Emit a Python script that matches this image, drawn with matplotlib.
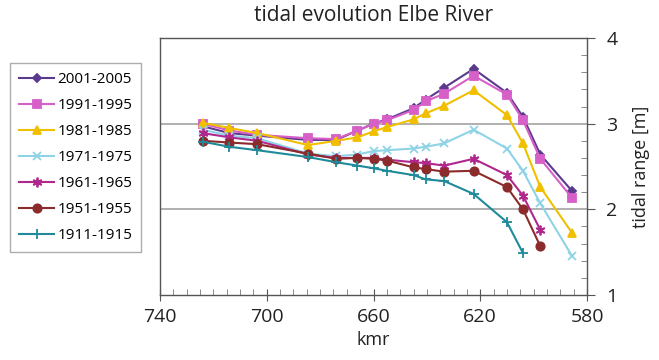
import matplotlib
matplotlib.use('Agg')
import matplotlib.pyplot as plt
from matplotlib.ticker import MultipleLocator
import numpy as np

plt.rcParams['font.family'] = ['Open Sans', 'DejaVu Sans']

# river km of the gauges
kmr = [724, 714, 703.5, 684.5, 674, 666, 660, 655, 645, 640.5, 633.5, 622.5, 610, 604, 597.5, 585.5]

nan = np.nan
r2001 = [2.97, 2.89, 2.86, 2.81, 2.81, 2.92, 3.00, 3.05, 3.18, 3.28, 3.42, 3.64, 3.36, 3.08, 2.64, 2.21]
r1991 = [3.00, 2.92, 2.87, 2.83, 2.82, 2.92, 3.00, 3.04, 3.16, 3.26, 3.35, 3.56, 3.34, 3.04, 2.59, 2.13]
r1981 = [3.01, 2.95, 2.89, 2.75, 2.80, 2.84, 2.91, 2.96, 3.05, 3.12, 3.21, 3.39, 3.10, 2.77, 2.26, 1.72]
r1971 = [2.93, 2.86, 2.83, 2.65, 2.62, 2.64, 2.68, 2.69, 2.71, 2.73, 2.77, 2.93, 2.71, 2.45, 2.07, 1.45]
r1961 = [2.89, 2.84, 2.80, 2.64, 2.60, 2.60, 2.60, 2.58, 2.55, 2.54, 2.51, 2.59, 2.40, 2.16, 1.76, nan]
r1951 = [2.80, 2.78, 2.76, 2.65, 2.59, 2.60, 2.59, 2.57, 2.49, 2.47, 2.44, 2.45, 2.26, 2.00, 1.57, nan]
r1911 = [2.79, 2.73, 2.69, 2.61, 2.55, 2.51, 2.48, 2.45, 2.40, 2.35, 2.33, 2.18, 1.85, 1.49, nan, nan]

series = [
    ('2001-2005', r2001, '#5b3a8e', 'D', 4.5),
    ('1991-1995', r1991, '#d75fc8', 's', 6),
    ('1981-1985', r1981, '#f0c000', '^', 6),
    ('1971-1975', r1971, '#8fd3e6', 'x', 6),
    ('1961-1965', r1961, '#b0288c', (6, 2, 0), 7),
    ('1951-1955', r1951, '#8b2b2b', 'o', 6),
    ('1911-1915', r1911, '#1f8a99', '+', 7),
]

fig = plt.figure(figsize=(6.59, 3.6), dpi=100)
ax = fig.add_axes([160/659, 1 - 295/360, 427/659, 257/360])

for lab, ys, c, m, ms in series:
    ax.plot(kmr, ys, color=c, marker=m, markersize=ms, lw=1.5,
            markeredgewidth=1.3, label=lab)

ax.set_xlim(740, 580)
ax.set_ylim(1, 4)
ax.set_xticks([740, 700, 660, 620, 580])
ax.set_yticks([1, 2, 3, 4])
ax.xaxis.set_minor_locator(MultipleLocator(5))
ax.yaxis.set_minor_locator(MultipleLocator(0.2))
ax.yaxis.tick_right()
ax.yaxis.set_label_position('right')
for y in [2, 3]:
    ax.axhline(y, color='#aaaaaa', lw=1.3, zorder=0)

for s in ax.spines.values():
    s.set_color('#555555')
    s.set_linewidth(1.0)
ax.tick_params(axis='x', which='major', direction='inout', length=8, labelsize=14,
               colors='#555555', labelcolor='#222222', pad=5)
ax.tick_params(axis='x', which='minor', direction='in', length=4, colors='#777777')
ax.tick_params(axis='y', which='major', direction='out', length=6, labelsize=14,
               colors='#555555', labelcolor='#222222', pad=8)
ax.tick_params(axis='y', which='minor', direction='in', length=4, colors='#777777')

ax.set_xlabel('kmr', fontsize=13, color='#222222', labelpad=4)
ax.set_ylabel('tidal range [m]', fontsize=13, color='#222222', labelpad=10)
ax.set_title('tidal evolution Elbe River', fontsize=15, color='#222222', pad=12)

fig.legend(loc='upper left', bbox_to_anchor=(10/659, 1 - 63/360), fontsize=11,
           frameon=True, fancybox=False, edgecolor='#999999', handlelength=2.3,
           labelspacing=0.72, borderpad=0.6, handletextpad=0.2, borderaxespad=0)

fig.savefig('out.png', dpi=100)
